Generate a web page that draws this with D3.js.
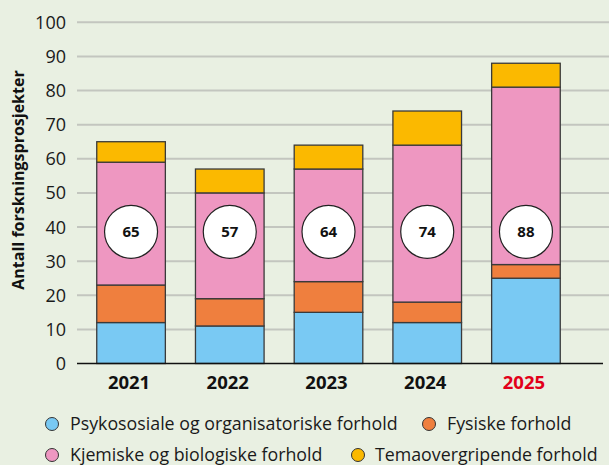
<!DOCTYPE html>
<html>
<head>
<meta charset="utf-8">
<script src="https://cdn.jsdelivr.net/npm/d3@7"></script>
<style>
    body { margin: 0; background: #e9f0e2; }
    svg { display: block; font-family: "Open Sans", "Noto Sans", sans-serif; }
</style>
</head>
<body>
<div id="chart"></div>
<script>
// Data
const years = ["2021", "2022", "2023", "2024", "2025"];
const psykososiale = [12, 11, 15, 12, 25];
const fysiske = [11, 8, 9, 6, 4];
const kjemiske = [36, 31, 33, 46, 52];
const tema = [6, 7, 7, 10, 7];
const totals = [65, 57, 64, 74, 88];
const yTicks = [0, 10, 20, 30, 40, 50, 60, 70, 80, 90, 100];

const seriesNames = [
    "Psykososiale og organisatoriske forhold",
    "Fysiske forhold",
    "Kjemiske og biologiske forhold",
    "Temaovergripende forhold"
];
const colors = ["#79c9f3", "#ef7f3e", "#ee97c1", "#fbb900"];

const width = 609;
const height = 465;

const svg = d3.select("#chart")
    .append("svg")
    .attr("width", width)
    .attr("height", height);

const x = d3.scaleBand()
    .domain(years)
    .range([77, 580])
    .paddingInner(0.305)
    .paddingOuter(0.2);

const y = d3.scaleLinear()
    .domain([0, 100])
    .range([363.5, 22.3]);

// gridlines
svg.append("g")
    .selectAll("line")
    .data(yTicks.filter(d => d > 0))
    .join("line")
    .attr("x1", 77)
    .attr("x2", 609)
    .attr("y1", d => y(d))
    .attr("y2", d => y(d))
    .attr("stroke", "#c3c6bf")
    .attr("stroke-width", 2);

// tick labels
svg.append("g")
    .selectAll("text")
    .data(yTicks)
    .join("text")
    .attr("x", 66)
    .attr("y", d => y(d))
    .attr("dy", "0.36em")
    .attr("text-anchor", "end")
    .attr("font-size", 18)
    .attr("fill", "#1a1a1a")
    .text(d => d);

// stacked bars
const rows = years.map((yr, i) => ({
    year: yr,
    s0: psykososiale[i],
    s1: fysiske[i],
    s2: kjemiske[i],
    s3: tema[i]
}));
const stack = d3.stack().keys(["s0", "s1", "s2", "s3"]);
const layers = stack(rows);

svg.append("g")
    .selectAll("g")
    .data(layers)
    .join("g")
    .attr("fill", (_, i) => colors[i])
    .selectAll("rect")
    .data(d => d)
    .join("rect")
    .attr("x", d => x(d.data.year))
    .attr("width", x.bandwidth())
    .attr("y", d => y(d[1]))
    .attr("height", d => y(d[0]) - y(d[1]))
    .attr("stroke", "#3a3a3a")
    .attr("stroke-width", 1.3);

// baseline
svg.append("line")
    .attr("x1", 77)
    .attr("x2", 603)
    .attr("y1", y(0))
    .attr("y2", y(0))
    .attr("stroke", "#111")
    .attr("stroke-width", 1.5);

// total circles
const labels = svg.append("g")
    .selectAll("g")
    .data(years)
    .join("g")
    .attr("transform", d => `translate(${x(d) + x.bandwidth() / 2},${y(38.6)})`);

labels.append("circle")
    .attr("r", 26.5)
    .attr("fill", "#fff")
    .attr("stroke", "#222")
    .attr("stroke-width", 1.2);

labels.append("text")
    .attr("text-anchor", "middle")
    .attr("dy", "0.36em")
    .attr("font-size", 15)
    .attr("font-weight", "bold")
    .attr("fill", "#111")
    .text((_, i) => totals[i]);

// x labels
svg.append("g")
    .selectAll("text")
    .data(years)
    .join("text")
    .attr("x", d => x(d) + x.bandwidth() / 2 - 2)
    .attr("y", 389)
    .attr("text-anchor", "middle")
    .attr("font-size", 18.5)
    .attr("font-weight", "bold")
    .attr("fill", d => d === "2025" ? "#e2001a" : "#111")
    .text(d => d);

// y axis title
svg.append("text")
    .attr("transform", "translate(24,180) rotate(-90)")
    .attr("text-anchor", "middle")
    .attr("font-size", 16)
    .attr("font-weight", "bold")
    .attr("fill", "#111")
    .text("Antall forskningsprosjekter");

// legend
const legendPos = [
    { cx: 52, cy: 424, tx: 70 },
    { cx: 429, cy: 424, tx: 447 },
    { cx: 52, cy: 455, tx: 70 },
    { cx: 358, cy: 455, tx: 375 }
];

const legend = svg.append("g")
    .selectAll("g")
    .data(seriesNames)
    .join("g");

legend.append("circle")
    .attr("cx", (_, i) => legendPos[i].cx)
    .attr("cy", (_, i) => legendPos[i].cy)
    .attr("r", 6.5)
    .attr("fill", (_, i) => colors[i])
    .attr("stroke", "#333")
    .attr("stroke-width", 1);

legend.append("text")
    .attr("x", (_, i) => legendPos[i].tx)
    .attr("y", (_, i) => legendPos[i].cy)
    .attr("dy", "0.35em")
    .attr("font-size", 17.8)
    .attr("fill", "#1a1a1a")
    .text(d => d);
</script>
</body>
</html>
